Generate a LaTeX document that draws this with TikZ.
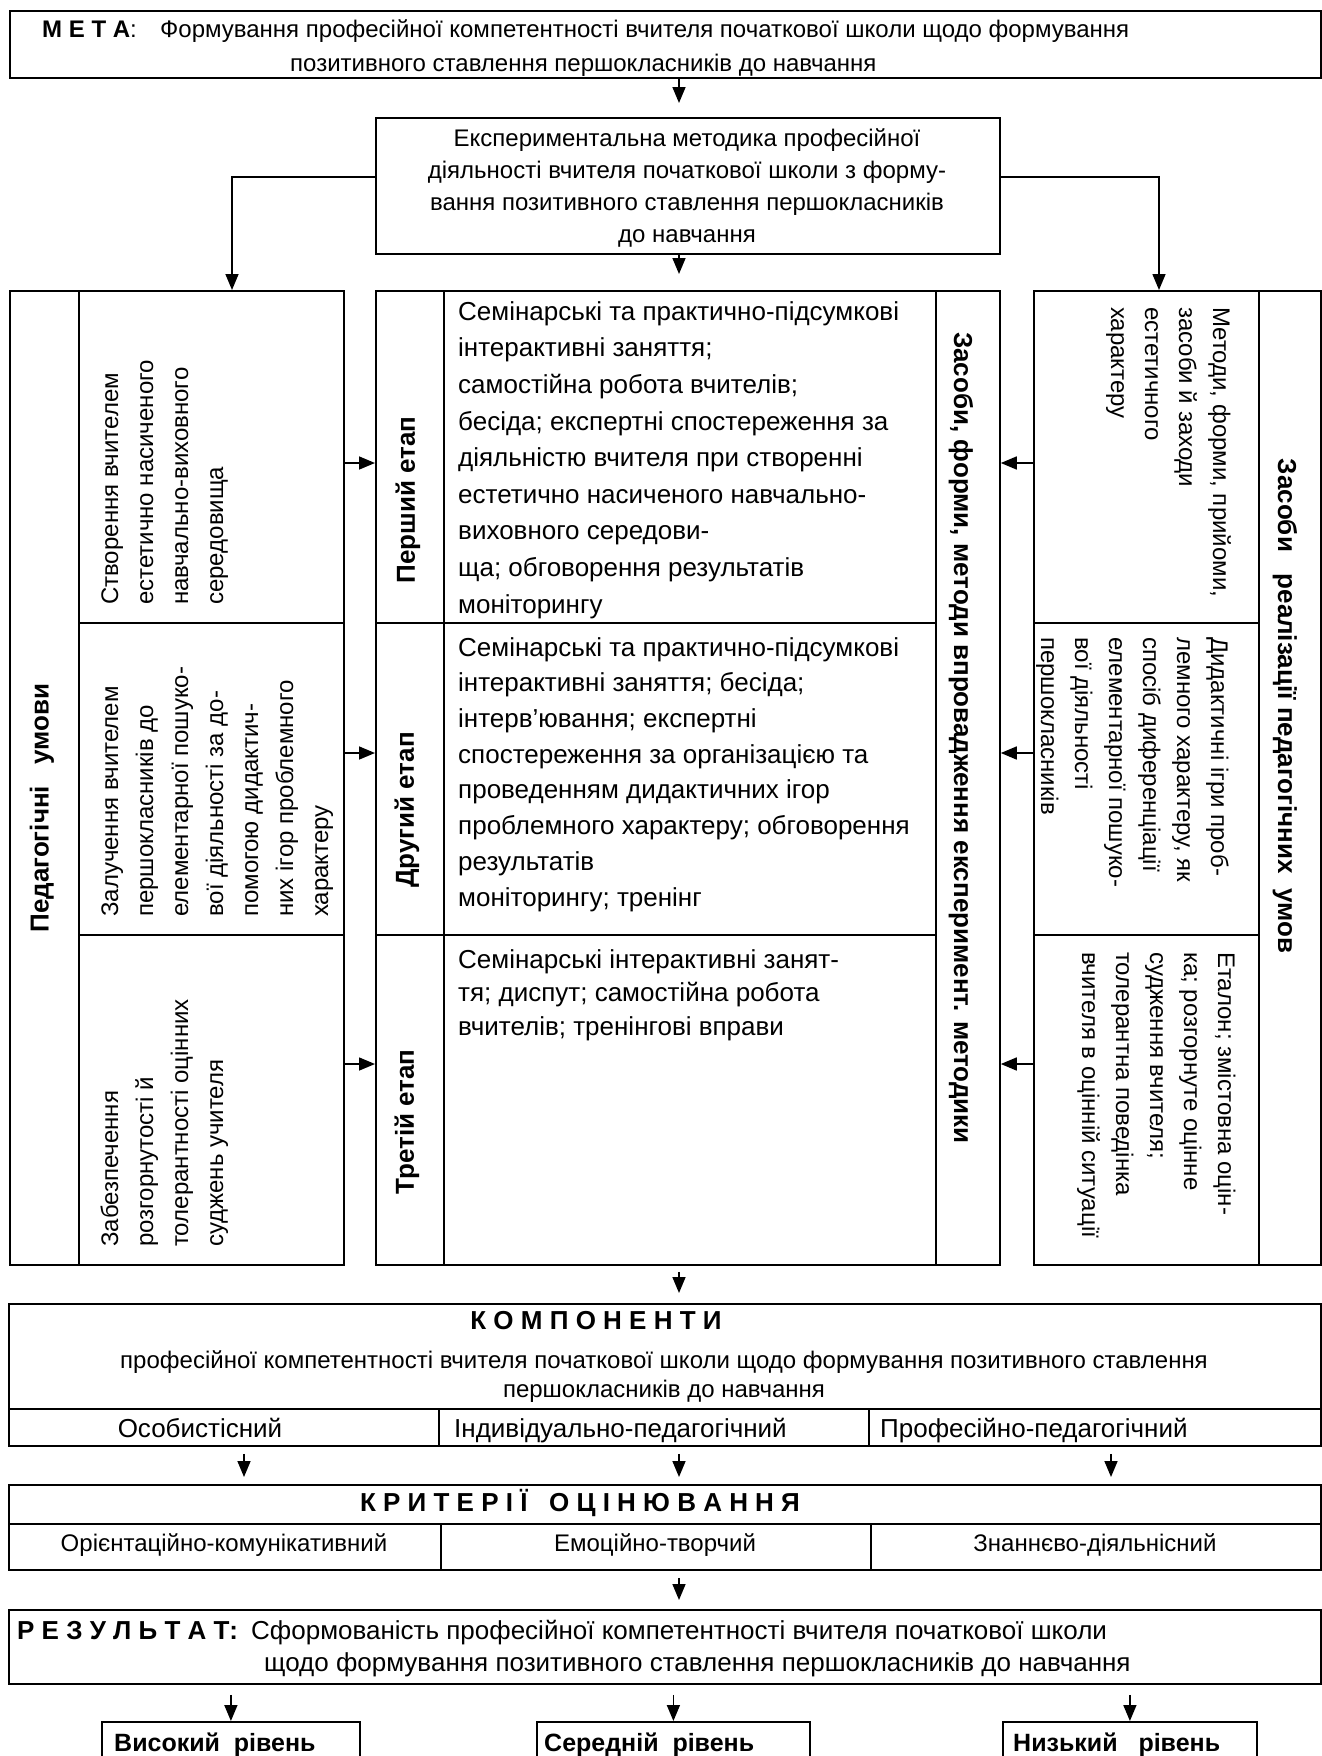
\documentclass[tikz,border=0pt]{standalone}
\usepackage{fontspec}
\setmainfont{Liberation Sans}
\usetikzlibrary{arrows.meta}
\newcommand\fsz[2]{\fontsize{#1bp}{#2bp}\selectfont}

\begin{document}
\begin{tikzpicture}[x=1bp, y=-1bp,
    frame/.style={draw, line width=1.8bp, inner sep=0pt, anchor=north west},
    txt/.style={inner sep=0pt, align=left, font=\fsz{24}{34}},
    lbl/.style={inner sep=0pt, font=\bfseries\fsz{26}{30}},
    arr/.style={line width=1.6bp, -{Triangle[width=13bp,length=16bp]}}]

    \useasboundingbox (0,0) rectangle (1322,1756);
    \clip (0,0) rectangle (1322,1756);

    % мета (multi-line nodes are placed by the baseline of their last line)
    \node[frame, minimum width=1311bp, minimum height=67bp] at (9,10) (meta) {};
    \node[txt, anchor=base west] at (42,71) (meta-t) {\makebox[118bp][l]{\textbf{М Е Т А}:}Формування професійної компетентності вчителя початкової школи щодо формування\\\hspace*{248bp}позитивного ставлення першокласників до навчання};

    % методика
    \node[frame, minimum width=624bp, minimum height=136bp] at (375,117) (exp) {};
    \node[txt, align=center, anchor=base, font=\fsz{24}{32}] at (687,242) (exp-t) {Експериментальна методика професійної\\діяльності вчителя початкової школи з форму-\\вання позитивного ставлення першокласників\\до навчання};

    % педагогічні умови
    \node[frame, minimum width=69bp, minimum height=974bp] at (9,290) (cond) {};
    \node[frame, minimum width=265bp, minimum height=332bp] at (78,290) (c1) {};
    \node[frame, minimum width=265bp, minimum height=312bp] at (78,622) (c2) {};
    \node[frame, minimum width=265bp, minimum height=330bp] at (78,934) (c3) {};
    \node[lbl, rotate=90] at (42,808) (cond-t) {Педагогічні\ \ \ умови};
    \node[txt, font=\fsz{24}{35}, rotate=90, anchor=base west] at (223,605) (c1-t) {Створення вчителем\\естетично насиченого\\навчально-виховного\\середовища};
    \node[txt, font=\fsz{24}{35}, rotate=90, anchor=base west] at (328,917) (c2-t) {Залучення вчителем\\першокласників до\\елементарної пошуко-\\вої діяльності за до-\\помогою дидактич-\\них ігор проблемного\\характеру};
    \node[txt, font=\fsz{24}{35}, rotate=90, anchor=base west] at (223,1247) (c3-t) {Забезпечення\\розгорнутості й\\толерантності оцінних\\суджень учителя};

    % етапи
    \node[frame, minimum width=68bp, minimum height=332bp] at (375,290) (s1) {};
    \node[frame, minimum width=68bp, minimum height=312bp] at (375,622) (s2) {};
    \node[frame, minimum width=68bp, minimum height=330bp] at (375,934) (s3) {};
    \node[frame, minimum width=492bp, minimum height=332bp] at (443,290) (m1) {};
    \node[frame, minimum width=492bp, minimum height=312bp] at (443,622) (m2) {};
    \node[frame, minimum width=492bp, minimum height=330bp] at (443,934) (m3) {};
    \node[frame, minimum width=64bp, minimum height=974bp] at (935,290) (meth) {};
    \node[lbl, rotate=90] at (408,500) (s1-t) {Перший етап};
    \node[lbl, rotate=90] at (407,810) (s2-t) {Другий етап};
    \node[lbl, rotate=90] at (407,1122) (s3-t) {Третій етап};
    \node[txt, font=\fsz{26}{36.6}, anchor=base west] at (458,613) (m1-t) {Семінарські та практично-підсумкові\\інтерактивні заняття;\\самостійна робота вчителів;\\бесіда; експертні спостереження за\\діяльністю вчителя при створенні\\естетично насиченого навчально-\\виховного середови-\\ща; обговорення результатів\\моніторингу};
    \node[txt, font=\fsz{26}{35.7}, anchor=base west] at (458,906) (m2-t) {Семінарські та практично-підсумкові\\інтерактивні заняття; бесіда;\\інтерв’ювання; експертні\\спостереження за організацією та\\проведенням дидактичних ігор\\проблемного характеру; обговорення\\результатів\\моніторингу; тренінг};
    \node[txt, font=\fsz{26}{33.5}, anchor=base west] at (458,1035) (m3-t) {Семінарські інтерактивні занят-\\тя; диспут; самостійна робота\\вчителів; тренінгові вправи};
    \node[lbl, rotate=-90] at (961,738) (meth-t) {Засоби, форми, методи впровадження експеримент. методики};

    % засоби реалізації
    \node[frame, minimum width=225bp, minimum height=332bp] at (1033,290) (t1) {};
    \node[frame, minimum width=225bp, minimum height=312bp] at (1033,622) (t2) {};
    \node[frame, minimum width=225bp, minimum height=330bp] at (1033,934) (t3) {};
    \node[frame, minimum width=62bp, minimum height=974bp] at (1258,290) (tools) {};
    \node[txt, rotate=-90, anchor=base west] at (1111,307) (t1-t) {Методи, форми, прийоми,\\засоби й заходи\\естетичного\\характеру};
    \node[txt, rotate=-90, anchor=base west] at (1041,637) (t2-t) {Дидактичні ігри проб-\\лемного характеру, як\\спосіб диференціації\\елементарної пошуко-\\вої діяльності\\першокласників};
    \node[txt, rotate=-90, anchor=base west] at (1082,952) (t3-t) {Еталон; змістовна оцін-\\ка; розгорнуте оцінне\\судження вчителя;\\толерантна поведінка\\вчителя в оцінній ситуації};
    \node[lbl, rotate=-90] at (1285,706) (tools-t) {Засоби\ \ \ реалізації педагогічних\ \ умов};

    % компоненти
    \node[frame, minimum width=1312bp, minimum height=105bp] at (8,1303) (komp) {};
    \node[frame, minimum width=430bp, minimum height=37bp] at (8,1408) (k1) {};
    \node[frame, minimum width=430bp, minimum height=37bp] at (438,1408) (k2) {};
    \node[frame, minimum width=452bp, minimum height=37bp] at (868,1408) (k3) {};
    \node[lbl, anchor=base] at (596,1329) (komp-t) {К О М П О Н Е Н Т И};
    \node[txt, align=center, anchor=base, font=\fsz{24}{29}] at (664,1397) (komp-s) {професійної компетентності вчителя початкової школи щодо формування позитивного ставлення\\першокласників до навчання};
    \node[txt, font=\fsz{26}{30}, anchor=base] at (200,1437) (k1-t) {Особистісний};
    \node[txt, font=\fsz{26}{30}, anchor=base west] at (454,1437) (k2-t) {Індивідуально-педагогічний};
    \node[txt, font=\fsz{26}{30}, anchor=base west] at (880,1437) (k3-t) {Професійно-педагогічний};

    % критерії
    \node[frame, minimum width=1312bp, minimum height=39bp] at (8,1484) (krit) {};
    \node[frame, minimum width=432bp, minimum height=46bp] at (8,1523) (q1) {};
    \node[frame, minimum width=430bp, minimum height=46bp] at (440,1523) (q2) {};
    \node[frame, minimum width=450bp, minimum height=46bp] at (870,1523) (q3) {};
    \node[lbl, anchor=base] at (580,1511) (krit-t) {К Р И Т Е Р І Ї\ \ \ О Ц І Н Ю В А Н Н Я};
    \node[txt, anchor=base] at (224,1551) (q1-t) {Орієнтаційно-комунікативний};
    \node[txt, anchor=base] at (655,1551) (q2-t) {Емоційно-творчий};
    \node[txt, anchor=base] at (1095,1551) (q3-t) {Знаннєво-діяльнісний};

    % результат
    \node[frame, minimum width=1312bp, minimum height=74bp] at (8,1609) (res) {};
    \node[txt, font=\fsz{26}{32}, anchor=base west] at (17,1671) (res-t) {\makebox[234bp][l]{\textbf{Р Е З У Л Ь Т А Т:}}Сформованість професійної компетентності вчителя початкової школи\\\hspace*{247bp}щодо формування позитивного ставлення першокласників до навчання};

    % рівні
    \node[frame, minimum width=258bp, minimum height=60bp] at (101,1721) (lv1) {};
    \node[frame, minimum width=273bp, minimum height=60bp] at (536,1721) (lv2) {};
    \node[frame, minimum width=254bp, minimum height=60bp] at (1002,1721) (lv3) {};
    \node[lbl, font=\bfseries\fsz{25}{30}, anchor=base west] at (114,1751) (lv1-t) {Високий\ \ рівень};
    \node[lbl, font=\bfseries\fsz{25}{30}, anchor=base west] at (544,1751) (lv2-t) {Середній\ \ рівень};
    \node[lbl, font=\bfseries\fsz{25}{30}, anchor=base west] at (1013,1751) (lv3-t) {Низький\ \ \ рівень};

    % стрілки
    \coordinate (mid) at (679,0);
    \coordinate (lt) at (232,177);
    \coordinate (rt) at (1159,177);
    \coordinate (r1) at (0,463);
    \coordinate (r2) at (0,753);
    \coordinate (r3) at (0,1064);
    \coordinate (a1) at (244,0);
    \coordinate (a3) at (1111,0);

    \draw[arr, shorten >=14bp] (meta.south -| mid) -- (exp.north -| mid);
    \draw[arr, shorten >=16bp] (exp.south -| mid) -- (m1.north -| mid);
    \draw[arr] (exp.west |- lt) -- (lt) -- (lt |- c1.north);
    \draw[arr] (exp.east |- rt) -- (rt) -- (rt |- t1.north);

    \draw[arr] (c1.east |- r1) -- (s1.west |- r1);
    \draw[arr] (c2.east |- r2) -- (s2.west |- r2);
    \draw[arr] (c3.east |- r3) -- (s3.west |- r3);
    \draw[arr] (t1.west |- r1) -- (meth.east |- r1);
    \draw[arr] (t2.west |- r2) -- (meth.east |- r2);
    \draw[arr] (t3.west |- r3) -- (meth.east |- r3);

    \draw[arr, shorten <=6bp, shorten >=10bp] (m3.south -| mid) -- (komp.north -| mid);
    \draw[arr, shorten <=7bp, shorten >=7bp] (k1.south -| a1) -- (krit.north -| a1);
    \draw[arr, shorten <=7bp, shorten >=7bp] (k2.south -| mid) -- (krit.north -| mid);
    \draw[arr, shorten <=7bp, shorten >=7bp] (k3.south -| a3) -- (krit.north -| a3);
    \draw[arr, shorten <=7bp, shorten >=9bp] (q2.south -| mid) -- (res.north -| mid);

    \draw[arr, shorten <=10bp] (res.south -| lv1.north) -- (lv1.north);
    \draw[arr, shorten <=10bp] (res.south -| lv2.north) -- (lv2.north);
    \draw[arr, shorten <=10bp] (res.south -| lv3.north) -- (lv3.north);

\end{tikzpicture}
\end{document}
